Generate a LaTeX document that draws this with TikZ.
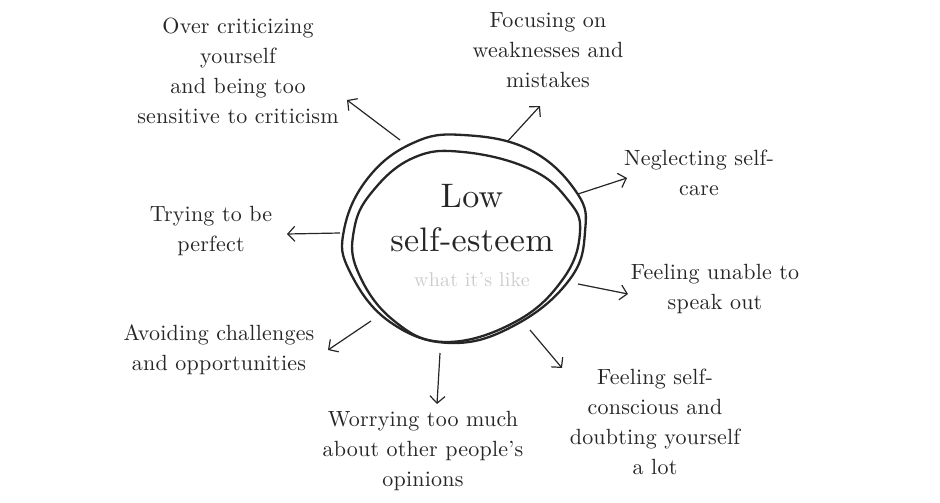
\documentclass[tikz,border=0pt]{standalone}
\usepackage{fontspec}
\newfontfamily\diagfont{lmroman10-regular.otf}[Ligatures=TeX, LetterSpace=1]
\usetikzlibrary{arrows.meta}

\tikzset{
  label/.style={align=center, font=\diagfont\fontsize{22}{30}\selectfont, text=black!85},
  arr/.style={-{Straight Barb[length=7pt,width=15pt]}, line width=1.2pt, black!85},
  ring/.style={line width=2.3pt, black!85}
}

\begin{document}
\begin{tikzpicture}[x=1pt,y=-1pt]
  \useasboundingbox (0,0) rectangle (940,503);

  % the two rings round the middle
  \draw[ring] plot[smooth cycle, tension=0.7] coordinates {(463,135) (530,150) (577,193) (585,232) (570,279) (517,324) (452,343) (390,322) (350,272) (344,230) (368,178) (413,143)};
  \draw[ring] plot[smooth cycle, tension=0.7] coordinates {(463,152) (530,169) (568,200) (580,232) (563,279) (515,322) (445,342) (393,320) (358,272) (354,230) (372,192) (413,158)};

  \node[align=center, font=\diagfont\fontsize{34}{44}\selectfont, text=black!85] (title) at (472,218) {Low\\self-esteem};
  \node[font=\diagfont\fontsize{20}{24}\selectfont, text=black!20] (like) at (472,280) {what it’s like};

  % the eight labels
  \node[label] (crit)  at (238,71)  {Over criticizing\\yourself\\and being too\\sensitive to criticism};
  \node[label] (weak)  at (548,50)  {Focusing on\\weaknesses and\\mistakes};
  \node[label] (care)  at (699,173) {Neglecting self-\\care};
  \node[label] (perf)  at (211,231) {Trying to be\\perfect};
  \node[label] (speak) at (715,289) {Feeling unable to\\speak out};
  \node[label] (avoid) at (219,350) {Avoiding challenges\\and opportunities};
  \node[label] (worry) at (423,451) {Worrying too much\\about other people’s\\opinions};
  \node[label] (doubt) at (655,422) {Feeling self-\\conscious and\\doubting yourself\\a lot};

  % arrow ends
  \foreach \n/\xa/\ya/\xb/\yb in {1/400/140/347/100, 2/507/142/540/106, 3/578/194/627/178, 4/340/233/287/234,
                                  5/578/284/628/294, 6/371/321/328/350, 7/440/353/437/404, 8/530/330/562/368} {
    \coordinate (s\n) at (\xa,\ya);
    \coordinate (e\n) at (\xb,\yb);
    \draw[arr] (s\n) -- (e\n);
  }
\end{tikzpicture}
\end{document}
